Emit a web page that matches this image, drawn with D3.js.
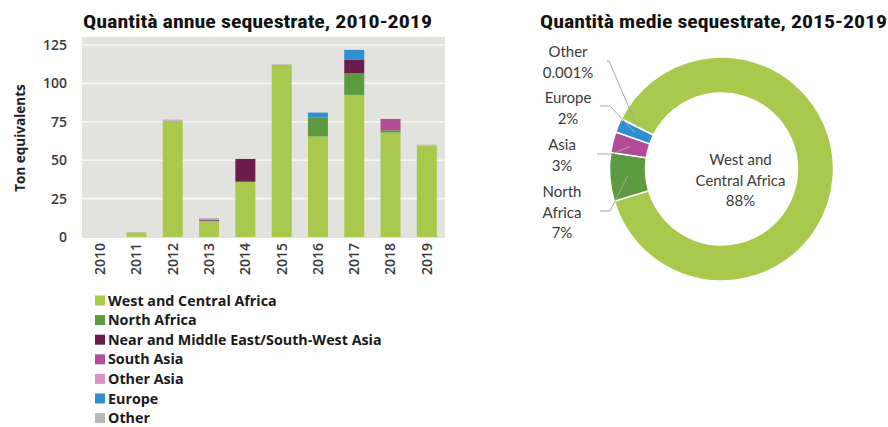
<!DOCTYPE html>
<html><head><meta charset="utf-8">
<script src="https://cdn.jsdelivr.net/npm/d3@7"></script>
<style>
html,body{margin:0;padding:0;background:#fff;}
svg{display:block;}
</style></head>
<body>
<svg id="c" width="888" height="427"></svg>
<script>
// ---------- data ----------
const years = ["2010","2011","2012","2013","2014","2015","2016","2017","2018","2019"];
const seriesNames = ["West and Central Africa","North Africa","Near and Middle East/South-West Asia","South Asia","Other Asia","Europe","Other"];
const westCentralAfrica = [0, 3, 75.5, 10.5, 36, 112, 65.5, 92.5, 68, 59.5];
const northAfrica       = [0, 0, 0, 0, 0, 0, 12.5, 14.2, 1.5, 0];
const nearMiddleEast    = [0, 0, 0, 0.5, 14.8, 0, 0, 8.6, 0, 0];
const southAsia         = [0, 0, 0, 0, 0, 0, 0, 0, 7.3, 0];
const otherAsia         = [0, 0, 0.4, 0.8, 0, 0, 0, 0, 0, 0];
const europe            = [0, 0, 0, 0, 0, 0, 3, 6.5, 0, 0];
const other             = [0, 0.3, 0.6, 0.6, 0, 0.5, 0, 0, 0, 0.6];
const yTicks = [0, 25, 50, 75, 100, 125];

const donutNames  = ["West and Central Africa","North Africa","Asia","Europe","Other"];
const donutShares = [88, 7, 3, 2, 0.001];
const donutLabels = [["West and","Central Africa","88%"],["North","Africa","7%"],["Asia","3%"],["Europe","2%"],["Other","0.001%"]];

const colors = ["#a8c94c","#5b9a3e","#6a1c4e","#b24b98","#d993c4","#2f8fcf","#b8b8b6"];
const donutColors = ["#a8c94c","#5b9a3e","#b24b98","#2f8fcf","#b8b8b6"];

// ---------- layout ----------
const svg = d3.select("#c");
const sansFont = "'Open Sans', 'DejaVu Sans', sans-serif";
const titleFont = "'Liberation Sans Narrow','Roboto Condensed','DejaVu Sans Condensed','Liberation Sans',Arial,sans-serif";
const plot = {left:82, right:445, top:37, bottom:238, y0:237, y125:45};

function title(text, cx, y, width){
  const t = svg.append("text").attr("x", cx).attr("y", y).attr("text-anchor","middle")
    .attr("font-family", titleFont).attr("font-weight","bold").attr("font-size", 18)
    .attr("fill","#111").text(text);
  const w = t.node().getComputedTextLength();
  if (Math.abs(w - width) > 2) t.attr("textLength", width).attr("lengthAdjust","spacingAndGlyphs");
}
title("Quantità annue sequestrate, 2010-2019", 257.5, 28, 349);
title("Quantità medie sequestrate, 2015-2019", 713.5, 28, 347);

// ---------- bar chart ----------
const x = d3.scaleBand().domain(years).range([plot.left, plot.right]).paddingInner(0.45).paddingOuter(0.225);
const y = d3.scaleLinear().domain([0,125]).range([plot.y0, plot.y125]);

svg.append("rect").attr("x", plot.left).attr("y", plot.top).attr("width", plot.right-plot.left)
  .attr("height", plot.bottom-plot.top).attr("fill","#e2e2de");

svg.append("g").selectAll("line").data(yTicks.filter(d=>d>0)).join("line")
  .attr("x1", plot.left).attr("x2", plot.right).attr("y1", d=>y(d)).attr("y2", d=>y(d))
  .attr("stroke","#f6f6f4").attr("stroke-width",1.6);

const table = years.map((yr,i)=>{
  const o = {year:yr};
  const arrs = [westCentralAfrica,northAfrica,nearMiddleEast,southAsia,otherAsia,europe,other];
  seriesNames.forEach((n,k)=>o[n]=arrs[k][i]);
  return o;
});
const stacked = d3.stack().keys(seriesNames)(table);
svg.append("g").selectAll("g").data(stacked).join("g").attr("fill",(d,i)=>colors[i])
  .selectAll("rect").data(d=>d).join("rect")
  .attr("x", d=>x(d.data.year)).attr("width", x.bandwidth())
  .attr("y", d=>y(d[1])).attr("height", d=>Math.max(0, y(d[0])-y(d[1])));

const yAxis = d3.axisLeft(y).tickValues(yTicks).tickSize(0).tickPadding(0);
const gy = svg.append("g").attr("transform","translate(67,0)").call(yAxis);
gy.select(".domain").remove();
gy.selectAll("text").attr("font-family",sansFont).attr("font-size",14).attr("font-weight",600).attr("fill","#3a3a3a");

const xAxis = d3.axisBottom(x).tickSize(0).tickPadding(0);
const gx = svg.append("g").attr("transform","translate(0,243)").call(xAxis);
gx.select(".domain").remove();
gx.selectAll("text").attr("font-family",sansFont).attr("font-size",14).attr("font-weight",600).attr("fill","#3a3a3a")
  .attr("transform","rotate(-90)").attr("text-anchor","end").attr("dy","0.35em").attr("x",0).attr("y",0);

svg.append("text").attr("transform","translate(20,138) rotate(-90)").attr("text-anchor","middle")
  .attr("dy","0.35em").attr("font-family",sansFont).attr("font-size",13.5).attr("font-weight",700)
  .attr("fill","#222").text("Ton equivalents");

// legend
const lg = svg.append("g").selectAll("g").data(seriesNames).join("g")
  .attr("transform",(d,i)=>`translate(95,${300.5 + i*19.6})`);
lg.append("rect").attr("x",0).attr("y",-5).attr("width",10).attr("height",10).attr("fill",(d,i)=>colors[i]);
lg.append("text").attr("x",13).attr("dy","0.35em").attr("font-family",sansFont).attr("font-size",14.3)
  .attr("font-weight",700).attr("fill","#1a1a1a").text(d=>d);

// ---------- donut ----------
const cx = 721.5, cy = 169, rOuter = 112, rInner = 76;
const start = -63.5*Math.PI/180;
const pie = d3.pie().sort(null).startAngle(start).endAngle(start+2*Math.PI);
const arcs = pie(donutShares);
const arc = d3.arc().innerRadius(rInner).outerRadius(rOuter);
const dg = svg.append("g").attr("transform",`translate(${cx},${cy})`);
dg.selectAll("path").data(arcs).join("path").attr("d",arc).attr("fill",(d,i)=>donutColors[i])
  .attr("stroke","#fff").attr("stroke-width",1.5);

const mid = d3.arc().innerRadius((rInner+rOuter)/2).outerRadius((rInner+rOuter)/2);
// label anchors (layout): text x, first line y, leader start x, leader knee x, leader y
const labelLayout = [
  null,
  {tx:562, ty:192, lx0:600, lx1:610, ly:211},
  {tx:562, ty:145, lx0:597, lx1:612, ly:154},
  {tx:568, ty:98,  lx0:600, lx1:610, ly:106},
  {tx:568, ty:52,  lx0:607, lx1:609, ly:61}
];
const lineH = 20.5;
arcs.forEach((a,i)=>{
  const L = labelLayout[i];
  if (!L) return;
  const c = mid.centroid(a);
  svg.append("polyline").attr("points",`${L.lx0},${L.ly} ${L.lx1},${L.ly} ${cx+c[0]},${cy+c[1]}`)
    .attr("fill","none").attr("stroke","#a8a8a8").attr("stroke-width",1);
});
arcs.forEach((a,i)=>{
  const L = labelLayout[i];
  const lines = donutLabels[i];
  const tx = L ? L.tx : cx+19, ty = L ? L.ty : 160;
  const t = svg.append("text").attr("text-anchor","middle").attr("font-family","Lato, 'Open Sans', sans-serif")
    .attr("font-size",15).attr("fill","#3a3a3a");
  lines.forEach((s,k)=>t.append("tspan").attr("x",tx).attr("y",ty + k*lineH).attr("dy","0.35em").text(s));
});
</script>
</body></html>
